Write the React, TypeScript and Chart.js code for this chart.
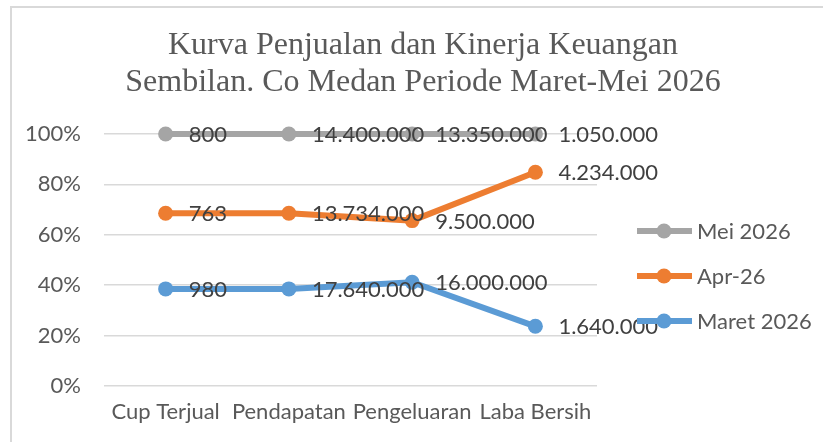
import { useEffect, useRef } from "react";
import { Chart, registerables } from "chart.js";

Chart.register(...registerables);

const titleLines = ["Kurva Penjualan dan Kinerja Keuangan", "Sembilan. Co Medan Periode Maret-Mei 2026"];
const categories = ["Cup Terjual", "Pendapatan", "Pengeluaran", "Laba Bersih"];
const seriesNames = ["Maret 2026", "Apr-26", "Mei 2026"];
const maret2026 = [980, 17640000, 16000000, 1640000];
const apr26 = [763, 13734000, 9500000, 4234000];
const mei2026 = [800, 14400000, 13350000, 1050000];
const seriesColors = ["#5B9BD5", "#ED7D31", "#A5A5A5"];
const yMaxPercent = 100;
const yStepPercent = 20;

const rawSeries = [maret2026, apr26, mei2026];
const totals = categories.map((_, i) => rawSeries.reduce((s, arr) => s + arr[i], 0));

const fmt = (v: number) => String(Math.round(v)).replace(/\B(?=(\d{3})+(?!\d))/g, ".");

const FONT = "Lato, 'Noto Sans', sans-serif";
const TEXT = "#595959";
const FS = 22;

const decor = {
  id: "decor",
  beforeDraw(chart: any) {
    const ctx = chart.ctx;
    ctx.save();
    ctx.fillStyle = "#ffffff";
    ctx.fillRect(0, 0, chart.width, chart.height);
    ctx.strokeStyle = "#d9d9d9";
    ctx.lineWidth = 2;
    ctx.strokeRect(11, 7, chart.width + 40, chart.height + 40);
    ctx.restore();
  },
  afterDatasetsDraw(chart: any) {
    const ctx = chart.ctx;
    ctx.save();
    ctx.font = `${FS}px ${FONT}`;
    ctx.fillStyle = "#404040";
    ctx.textAlign = "left";
    ctx.textBaseline = "middle";
    chart.data.datasets.forEach((ds: any, di: number) => {
      const meta = chart.getDatasetMeta(di);
      meta.data.forEach((pt: any, i: number) => {
        ctx.fillText(fmt(ds.raw[i]), pt.x + 23, pt.y + 1);
      });
    });
    ctx.restore();
  },
  afterDraw(chart: any) {
    const ctx = chart.ctx;
    const area = chart.chartArea;
    ctx.save();
    // title
    ctx.font = `32px 'Liberation Serif', 'Times New Roman', serif`;
    ctx.fillStyle = TEXT;
    ctx.textAlign = "center";
    ctx.textBaseline = "middle";
    const cx = 423;
    titleLines.forEach((line, i) => {
      ctx.fillText(line, cx, 46 + i * 37);
    });
    // legend
    const lx = area.right + 40;
    const midY = area.top + 142;
    const items = chart.data.datasets.map((d: any) => d).reverse();
    items.forEach((ds: any, i: number) => {
      const y = midY + (i - 1) * 45;
      ctx.strokeStyle = ds.borderColor;
      ctx.lineWidth = 6;
      ctx.lineCap = "butt";
      ctx.beginPath();
      ctx.moveTo(lx, y);
      ctx.lineTo(lx + 55, y);
      ctx.stroke();
      ctx.fillStyle = ds.borderColor;
      ctx.beginPath();
      ctx.arc(lx + 27, y, 7.5, 0, Math.PI * 2);
      ctx.fill();
      ctx.fillStyle = TEXT;
      ctx.font = `${FS}px ${FONT}`;
      ctx.textAlign = "left";
      ctx.textBaseline = "middle";
      ctx.fillText(ds.label, lx + 60, y + 1);
    });
    ctx.restore();
  },
};

export default function App() {
  const ref = useRef<HTMLCanvasElement | null>(null);
  useEffect(() => {
    document.body.style.margin = "0";
    const canvas = ref.current!;
    const datasets = rawSeries.map((arr, si) => ({
      label: seriesNames[si],
      data: arr.map((v, i) => v / totals[i]),
      raw: arr,
      borderColor: seriesColors[si],
      backgroundColor: seriesColors[si],
      pointBackgroundColor: seriesColors[si],
      pointBorderColor: seriesColors[si],
      pointBorderWidth: 0,
      pointRadius: 7.5,
      borderWidth: 6,
      tension: 0,
      fill: false,
      clip: false,
    }));
    const chart = new Chart(canvas, {
      type: "line",
      data: { labels: categories, datasets: datasets as any },
      options: {
        animation: false,
        responsive: false,
        devicePixelRatio: 1,
        layout: { padding: { top: 134, right: 226, bottom: 0, left: 0 } },
        plugins: {
          legend: { display: false },
          title: { display: false },
          tooltip: { enabled: false },
        },
        scales: {
          x: {
            offset: true,
            grid: { display: false, drawTicks: false },
            border: { display: false },
            ticks: { color: TEXT, font: { family: FONT, size: FS }, padding: 13, maxRotation: 0, autoSkip: false },
            afterFit: (s: any) => { s.height = 56; },
          },
          y: {
            stacked: true,
            min: 0,
            max: yMaxPercent / 100,
            grid: { color: "#d9d9d9", lineWidth: 1.5, drawTicks: false },
            border: { display: false },
            ticks: {
              stepSize: yStepPercent / 100,
              color: TEXT,
              font: { family: FONT, size: FS },
              padding: 23,
              callback: (v: any) => Math.round(Number(v) * 100) + "%",
            },
            afterFit: (s: any) => { s.width = 104; },
          },
        },
      },
      plugins: [decor],
    });
    return () => chart.destroy();
  }, []);
  return (
    <div style={{ width: 823, height: 442 }}>
      <canvas ref={ref} width={823} height={442} style={{ display: "block" }} />
    </div>
  );
}
